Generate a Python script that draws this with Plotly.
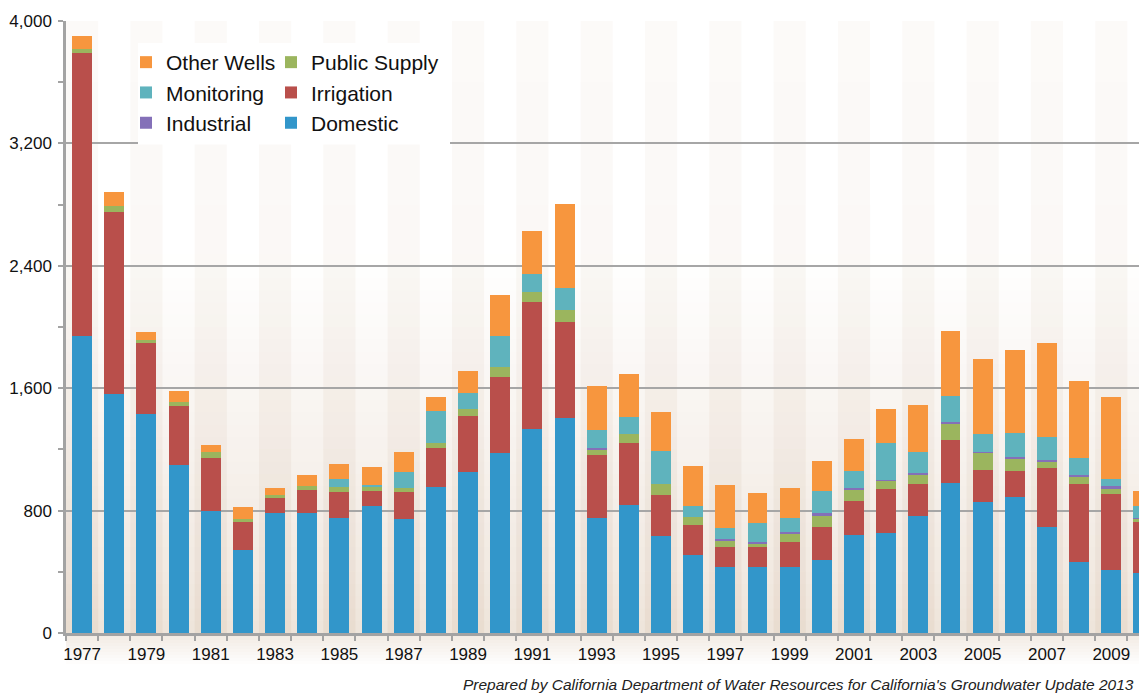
import plotly.graph_objects as go

years = list(range(1977, 2011))
domestic = [1942, 1561, 1433, 1098, 800, 541, 783, 783, 754, 829, 744, 957, 1051, 1175, 1331, 1405, 754,
            837, 635, 513, 431, 431, 431, 478, 641, 653, 765, 979, 857, 891, 696, 465, 411, 392]
irrigation = [1847, 1190, 463, 387, 342, 185, 100, 154, 166, 102, 176, 252, 369, 495, 831, 628, 407,
              407, 267, 194, 134, 128, 163, 218, 224, 287, 211, 282, 209, 168, 383, 511, 500, 332]
public_supply = [28, 37, 18, 22, 39, 18, 19, 24, 37, 24, 30, 35, 46, 66, 65, 75, 39,
                 58, 74, 54, 39, 28, 52, 69, 70, 54, 63, 109, 115, 83, 45, 42, 33, 22]
industrial = [0, 0, 0, 0, 0, 0, 0, 0, 0, 0, 0, 0, 0, 0, 0, 0, 11,
              0, 0, 0, 9, 9, 17, 20, 11, 6, 9, 11, 3, 8, 9, 15, 15, 8]
monitoring = [0, 0, 0, 0, 0, 0, 0, 0, 48, 11, 101, 205, 104, 206, 122, 147, 117,
              109, 216, 70, 76, 122, 91, 144, 113, 244, 133, 169, 116, 159, 150, 111, 46, 75]
other_wells = [87, 92, 54, 74, 48, 78, 48, 72, 102, 121, 130, 95, 140, 270, 278, 551, 289,
               281, 250, 259, 279, 195, 196, 195, 207, 218, 307, 421, 494, 540, 613, 502, 539, 102]

y_ticks = [0, 800, 1600, 2400, 3200, 4000]
x_label_years = [y for y in years if y % 2 == 1]

series = [
    ("Domestic", domestic, "#3296CA", "legend2", 3),
    ("Irrigation", irrigation, "#B94F4B", "legend2", 2),
    ("Public Supply", public_supply, "#9BB55E", "legend2", 1),
    ("Industrial", industrial, "#8470B8", "legend", 3),
    ("Monitoring", monitoring, "#5FB3BD", "legend", 2),
    ("Other Wells", other_wells, "#F7963E", "legend", 1),
]

X0, X1 = 1976.5, 2010.11
YMAX = 4000
fig = go.Figure()

for name, vals, color, leg, rank in series:
    fig.add_trace(go.Bar(
        x=years, y=vals, name=name, marker=dict(color=color, line=dict(width=0)),
        width=0.62, legend=leg, legendrank=rank,
    ))

# the page body has an 8px margin, so the figure is drawn 8px smaller and offset
OFF = 8
W, H = 1147 - OFF, 694 - OFF
ML, MT, MB = 66 - OFF, 21 - OFF, 61
PW, PH = W - ML, H - MT - MB


def px_x(p):  # p: pixel position in the final picture
    return (p - OFF - ML) / PW


def px_y(p):
    return (H - MB - (p - OFF)) / PH


def mix(c1, c2, t):
    return "rgb(%d,%d,%d)" % tuple(round(a + (b - a) * t) for a, b in zip(c1, c2))


shapes = []
# vertical background gradient (beige at bottom -> white higher up)
beige = (238, 228, 218)
white = (255, 255, 255)
N = 50
for i in range(N):
    f0, f1 = i / N, (i + 1) / N
    t = min(1.0, (f0 + 0.5 / N) / 0.62)
    shapes.append(dict(type="rect", xref="paper", yref="paper", x0=0, x1=1, y0=f0, y1=f1 + 0.002,
                       fillcolor=mix(beige, white, t ** 0.9), line=dict(width=0), layer="below"))
# stripes under odd years, slightly darker
M = 10
for yr in years:
    if yr % 2 == 1:
        for j in range(M):
            f0, f1 = j / M, (j + 1) / M
            a = 0.075 - 0.035 * (j / (M - 1))
            shapes.append(dict(type="rect", xref="x", yref="paper", x0=yr - 0.5, x1=yr + 0.5,
                               y0=f0, y1=f1, fillcolor="rgba(170,120,80,%.3f)" % a,
                               line=dict(width=0), layer="below"))
# shading below axis
for i in range(10):
    shapes.append(dict(type="rect", xref="paper", yref="paper",
                       x0=0, x1=1, y0=px_y(634 + 3 * i + 3), y1=px_y(634 + 3 * i),
                       fillcolor="#EFE6DD", opacity=0.8 * (1 - i / 10), line=dict(width=0), layer="below"))
# white legend box
shapes.append(dict(type="rect", xref="paper", yref="paper",
                   x0=px_x(138), x1=px_x(450), y0=px_y(144.5), y1=px_y(43),
                   fillcolor="white", line=dict(width=0), layer="above"))

tick_font = dict(family="Liberation Sans, Arial", size=17, color="#111111")
leg_font = dict(family="Liberation Sans, Arial", size=21, color="#111111")

fig.update_layout(
    width=W, height=H,
    margin=dict(l=ML, r=0, t=MT, b=MB, pad=0),
    barmode="stack",
    paper_bgcolor="white", plot_bgcolor="rgba(0,0,0,0)",
    shapes=shapes,
    legend=dict(x=px_x(126), y=px_y(42), xanchor="left", yanchor="top", orientation="v",
                bgcolor="rgba(0,0,0,0)", font=leg_font, traceorder="normal", itemclick=False),
    legend2=dict(x=px_x(271), y=px_y(42), xanchor="left", yanchor="top", orientation="v",
                 bgcolor="rgba(0,0,0,0)", font=leg_font, traceorder="normal", itemclick=False),
    xaxis=dict(range=[X0, X1], tickmode="array", tickvals=x_label_years,
               ticktext=[str(y) for y in x_label_years], ticks="", tickfont=tick_font,
               showgrid=False, zeroline=False, showline=True, linecolor="#A3A3A3", linewidth=2.5,
               ticklabelstandoff=4, automargin=False,
               minor=dict(tickmode="array", tickvals=[y - 0.5 for y in years] + [years[-1] + 0.5],
                          ticks="outside", ticklen=5, tickwidth=2, tickcolor="#A3A3A3", showgrid=False)),
    yaxis=dict(range=[0, YMAX], tickmode="array", tickvals=y_ticks,
               ticktext=[f"{v:,}" for v in y_ticks], tickfont=tick_font,
               ticks="outside", ticklen=5, tickwidth=2, tickcolor="#A3A3A3",
               showgrid=True, gridcolor="#A6A6A6", gridwidth=1.5, zeroline=False,
               showline=True, linecolor="#A3A3A3", linewidth=2.5, ticklabelstandoff=3, automargin=False,
               minor=dict(tickmode="array", tickvals=[400, 1200, 2000, 2800, 3600],
                          ticks="outside", ticklen=5, tickwidth=2, tickcolor="#A3A3A3", showgrid=False)),
    annotations=[dict(
        text="<i>Prepared by California Department of Water Resources for California's Groundwater Update 2013</i>",
        xref="paper", yref="paper", x=px_x(1136), y=px_y(695), xanchor="right", yanchor="bottom",
        showarrow=False, font=dict(family="Liberation Sans, Arial", size=15.5, color="#222222"))],
)

fig.write_html("out.html")
